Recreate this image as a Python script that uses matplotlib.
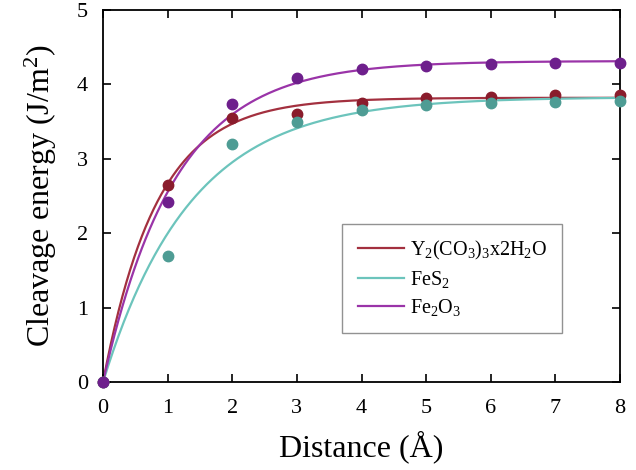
import numpy as np
import matplotlib
matplotlib.use("Agg")
import matplotlib.pyplot as plt

plt.rcParams['font.family'] = ['Liberation Serif', 'DejaVu Serif']
plt.rcParams['mathtext.fontset'] = 'custom'
plt.rcParams['mathtext.rm'] = 'Liberation Serif'
plt.rcParams['mathtext.it'] = 'Liberation Serif:italic'

# distance (A) and cleavage energy (J/m2)
distance = [0, 1, 2, 3, 4, 5, 6, 7, 8]
e_y2co3 = [0, 2.65, 3.55, 3.60, 3.75, 3.82, 3.83, 3.85, 3.85]
e_fes2 = [0, 1.70, 3.20, 3.50, 3.65, 3.72, 3.75, 3.76, 3.77]
e_fe2o3 = [0, 2.42, 3.73, 4.08, 4.20, 4.25, 4.27, 4.28, 4.28]

labels = [r'Y$_2$(CO$_3$)$_3$x2H$_2$O', r'FeS$_2$', r'Fe$_2$O$_3$']
line_colors = ['#a3303f', '#6cc4bc', '#9a34a8']
dot_colors = ['#8a1c2c', '#4e9c94', '#6e1f8c']


def fit_curve(x, y, xx):
    # E(d) = Emax * (1 - exp(-d/l)), least squares over l
    x = np.asarray(x, float)
    y = np.asarray(y, float)
    best = None
    for l in np.linspace(0.3, 3.0, 541):
        g = 1 - np.exp(-x / l)
        emax = (g @ y) / (g @ g)
        err = np.sum((emax * g - y) ** 2)
        if best is None or err < best[0]:
            best = (err, emax, l)
    return best[1] * (1 - np.exp(-xx / best[2]))


fig = plt.figure(figsize=(6.36, 4.70), dpi=100)
ax = fig.add_axes([0.162, 0.187, 0.813, 0.792])

xx = np.linspace(0, 8, 400)
for y, lab, lc, dc in zip([e_y2co3, e_fes2, e_fe2o3], labels, line_colors, dot_colors):
    ax.plot(xx, fit_curve(distance, y, xx), color=lc, lw=1.6, label=lab, zorder=2)
    ax.plot(distance, y, 'o', color=dc, mec=dc, ms=7.5, zorder=3, clip_on=False)

ax.set_xlim(0, 8)
ax.set_ylim(0, 5)
ax.set_xticks(range(0, 9))
ax.set_yticks(range(0, 6))
ax.tick_params(direction='in', top=True, right=True, length=6, width=1.2,
               labelsize=16)
ax.tick_params(axis='y', pad=11)
ax.tick_params(axis='x', pad=12)
for s in ax.spines.values():
    s.set_linewidth(1.3)
ax.set_xlabel('Distance (Å)', fontsize=23, labelpad=9)
ax.set_ylabel('Cleavage energy (J/m$^2$)', fontsize=23, labelpad=13)

leg = ax.legend(loc='lower right', bbox_to_anchor=(0.888, 0.132), fontsize=14.5,
                frameon=True, fancybox=False, edgecolor='#777777',
                handlelength=2.3, handletextpad=0.3, borderpad=0.75,
                borderaxespad=0, labelspacing=0.35)
leg.get_frame().set_linewidth(1.0)

fig.savefig('out.png', dpi=100)
